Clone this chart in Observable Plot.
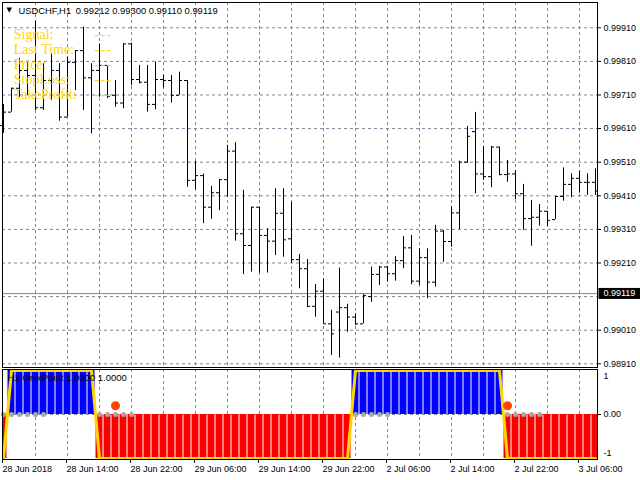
<!DOCTYPE html>
<html><head><meta charset="utf-8">
<script src="https://cdn.jsdelivr.net/npm/d3@7"></script>
<script src="https://cdn.jsdelivr.net/npm/@observablehq/plot@0.6"></script>
<style>
html,body{margin:0;padding:0;background:#fff;}
#chart{position:relative;width:640px;height:480px;overflow:hidden;background:#fff;}
#chart svg{position:absolute;left:0;display:block;}
</style></head><body><div id="chart"></div>
<script>
// ---- data ----
const symbol = "USDCHF,H1";
const headerOHLC = ["0.99212", "0.99300", "0.99110", "0.99119"];
const currentPrice = 0.99119;
const priceLevels = [0.98910, 0.99010, 0.99110, 0.99210, 0.99310, 0.99410, 0.99510, 0.99610, 0.99710, 0.99810, 0.99910];
const opens = [0.99619,0.99659,0.99730,0.99783,0.99768,0.99672,0.99753,0.99783,0.99644,0.99807,
0.99842,0.99761,0.99783,0.99798,0.99709,0.99686,0.99862,0.99756,0.99748,0.99682,
0.99756,0.99753,0.99709,0.99753,0.99456,0.99470,0.99376,0.99419,0.99458,0.99543,
0.99297,0.99262,0.99376,0.99292,0.99275,0.99358,0.99282,0.99220,0.99193,0.99081,
0.99126,0.99029,0.99064,0.99077,0.99049,0.99029,0.99110,0.99176,0.99198,0.99178,
0.99217,0.99255,0.99156,0.99226,0.99153,0.99305,0.99274,0.99359,0.99510,0.99601,
0.99475,0.99467,0.99555,0.99473,0.99475,0.99416,0.99342,0.99346,0.99364,0.99339,
0.99408,0.99444,0.99462,0.99450,0.99450];
const highs = [0.99682,0.99730,0.99819,0.99807,0.99930,0.99803,0.99834,0.99803,0.99822,0.99842,
0.99912,0.99803,0.99862,0.99798,0.99753,0.99862,0.99864,0.99798,0.99798,0.99808,
0.99768,0.99768,0.99778,0.99753,0.99512,0.99475,0.99438,0.99458,0.99560,0.99568,
0.99426,0.99376,0.99376,0.99312,0.99431,0.99431,0.99391,0.99235,0.99220,0.99146,
0.99163,0.99069,0.99195,0.99087,0.99059,0.99116,0.99198,0.99200,0.99200,0.99229,
0.99289,0.99292,0.99252,0.99252,0.99322,0.99307,0.99378,0.99513,0.99616,0.99658,
0.99557,0.99557,0.99555,0.99515,0.99485,0.99444,0.99396,0.99384,0.99364,0.99408,
0.99493,0.99475,0.99483,0.99475,0.99490];
const lows = [0.99596,0.99659,0.99703,0.99709,0.99664,0.99664,0.99694,0.99632,0.99644,0.99723,
0.99664,0.99594,0.99703,0.99699,0.99674,0.99669,0.99738,0.99743,0.99659,0.99666,
0.99731,0.99686,0.99709,0.99436,0.99428,0.99327,0.99340,0.99366,0.99406,0.99275,
0.99176,0.99183,0.99180,0.99180,0.99232,0.99227,0.99209,0.99133,0.99077,0.99049,
0.99029,0.98935,0.98927,0.99004,0.99024,0.99029,0.99093,0.99143,0.99153,0.99156,
0.99193,0.99145,0.99143,0.99104,0.99138,0.99212,0.99257,0.99309,0.99507,0.99416,
0.99456,0.99434,0.99470,0.99450,0.99398,0.99307,0.99260,0.99320,0.99319,0.99339,
0.99394,0.99404,0.99418,0.99411,0.99411];
const closes = [0.99659,0.99730,0.99783,0.99768,0.99672,0.99753,0.99783,0.99644,0.99807,0.99842,
0.99761,0.99783,0.99798,0.99706,0.99686,0.99862,0.99756,0.99748,0.99682,0.99756,
0.99753,0.99709,0.99753,0.99456,0.99470,0.99376,0.99419,0.99458,0.99543,0.99297,
0.99262,0.99376,0.99292,0.99275,0.99358,0.99279,0.99220,0.99193,0.99081,0.99126,
0.99029,0.98999,0.99077,0.99049,0.99029,0.99113,0.99176,0.99198,0.99178,0.99217,
0.99255,0.99156,0.99226,0.99153,0.99305,0.99274,0.99359,0.99510,0.99587,0.99475,
0.99467,0.99555,0.99473,0.99475,0.99416,0.99342,0.99346,0.99364,0.99337,0.99408,
0.99444,0.99462,0.99450,0.99450,0.99424];
// OnixPoint indicator: +1 buy, -1 sell
const signal = [-1,1,1,1,1,1,1,1,1,1,
1,1,-1,-1,-1,-1,-1,-1,-1,-1,
-1,-1,-1,-1,-1,-1,-1,-1,-1,-1,
-1,-1,-1,-1,-1,-1,-1,-1,-1,-1,
-1,-1,-1,-1,1,1,1,1,1,1,
1,1,1,1,1,1,1,1,1,1,
1,1,1,-1,-1,-1,-1,-1,-1,-1,
-1,-1,-1,-1,-1];
const grayDotBars = [0,1,2,3,4,5,12,13,14,15,16,44,45,46,47,48,63,64,65,66,67];
const arrowBars = [14, 63];
const arrowValues = [0.2, 0.2];
const indicatorLevels = [1, 0, -1];
const indicatorLevelLabels = ["1", "0.00", "-1"];
const dateTickBars = [0, 8, 16, 24, 32, 40, 48, 56, 64, 72];
const dateTickLabels = ["28 Jun 2018","28 Jun 14:00","28 Jun 22:00","29 Jun 06:00","29 Jun 14:00","29 Jun 22:00","2 Jul 06:00","2 Jul 14:00","2 Jul 22:00","3 Jul 06:00"];
const gridBars = d3.range(4, 73, 4);
const infoLabels = ["Signal:", "Last Time:", "Price:", "StopLoss:", "TakeProfit:"];
const infoValues = ["---", "---", "---", "---", "---"];
const indicatorName = "H1 OnixPoint 1.0000 1.0000";

// ---- build ----
const n = opens.length;
const bars = opens.map((o, i) => ({i, open: o, high: highs[i], low: lows[i], close: closes[i]}));
const hist = signal.map((v, i) => ({i, v}));
const arrows = arrowBars.map((b, k) => ({i: b, v: arrowValues[k]}));
const xDomain = [-0.125, n - 0.75];
const fontFamily = "'Liberation Sans', Arial, sans-serif";
const serif = "'Liberation Serif', 'Times New Roman', serif";
const gridColor = "#778899";
const fmt5 = d3.format(".5f");
const gridStyle = {stroke: gridColor, strokeOpacity: 1, strokeDasharray: "3,3"};
// price labels hidden behind the current-price tag are not drawn
const labelledLevels = priceLevels.filter(p => Math.abs(p - currentPrice) > 0.0002);
const levelLabel = d => indicatorLabelFor(d);
function indicatorLabelFor(d) { return indicatorLevelLabels[indicatorLevels.indexOf(d)]; }

const main = Plot.plot({
  width: 640, height: 368,
  marginLeft: 2, marginRight: 43, marginTop: 2, marginBottom: 1,
  style: {fontFamily, fontSize: "9px", color: "black", background: "white", overflow: "visible"},
  x: {domain: xDomain, axis: null},
  y: {domain: [0.98899, 0.999852], axis: null},
  marks: [
    Plot.gridX(gridBars, gridStyle),
    Plot.gridY(priceLevels, gridStyle),
    Plot.ruleY([currentPrice], {stroke: gridColor}),
    Plot.ruleX(bars, {x: "i", y1: "low", y2: "high", stroke: "black"}),
    Plot.ruleY(bars, {y: "open", x1: d => d.i - 0.375, x2: "i", stroke: "black"}),
    Plot.ruleY(bars, {y: "close", x1: "i", x2: d => d.i + 0.375, stroke: "black"}),
    Plot.frame({stroke: "black"}),
    Plot.axisY(labelledLevels, {anchor: "right", tickSize: 3, tickPadding: 3, tickFormat: fmt5, label: null}),
    Plot.text([currentPrice], {y: d => d, frameAnchor: "right", textAnchor: "start", dx: 6, text: d => fmt5(d), fill: "white"}),
    Plot.text(["\u25BC"], {frameAnchor: "top-left", dx: 4, dy: 5, fontSize: 7, fontFamily: "DejaVu Sans", textAnchor: "start", fill: "black"}),
    Plot.text([symbol + "\u2002" + headerOHLC.join(" ")], {frameAnchor: "top-left", dx: 16, dy: 4.5, textAnchor: "start", fill: "black", fontSize: 9.4}),
    Plot.text([infoLabels.join("\n")], {frameAnchor: "top-left", dx: 11.3, dy: 26.3, textAnchor: "start", lineHeight: 15/14, fontSize: 14, fontFamily: serif, fill: "#FFD700"}),
    Plot.text([infoValues.join("\n")], {frameAnchor: "top-left", dx: 92, dy: 26.3, textAnchor: "start", lineHeight: 15/14, fontSize: 14, fontFamily: serif, fill: "#FFD700"})
  ]
});

const ind = Plot.plot({
  width: 640, height: 112,
  marginLeft: 2, marginRight: 43, marginTop: 1, marginBottom: 21,
  style: {fontFamily, fontSize: "9px", color: "black", background: "white", overflow: "visible"},
  x: {domain: xDomain, axis: null},
  y: {domain: [-1.0227, 1.0227], axis: null},
  marks: [
    Plot.gridX(gridBars, gridStyle),
    Plot.gridY([0], gridStyle),
    Plot.rect(hist, {x1: d => d.i - 0.5, x2: d => d.i + 0.5, y1: 0, y2: "v", fill: d => d.v > 0 ? "#0000FF" : "#FF0000", insetLeft: 0.5, insetRight: 0.5, clip: true}),
    Plot.line(hist, {x: "i", y: "v", stroke: "#FFD700", strokeWidth: 3, clip: true}),
    Plot.dot(grayDotBars, {x: d => d, y: 0, r: 2.5, fill: "#A8A8A8"}),
    Plot.dot(arrows, {x: "i", y: "v", r: 4.5, fill: "#FF4500"}),
    Plot.frame({stroke: "black"}),
    Plot.text([indicatorName], {frameAnchor: "top-left", dx: 5, dy: 4.5, textAnchor: "start", fill: "black", fontSize: 9.5}),
    Plot.axisY([0], {anchor: "right", tickSize: 3, tickPadding: 3, tickFormat: levelLabel, label: null}),
    Plot.axisY([1], {anchor: "right", tickSize: 0, tickPadding: 6, dy: 6, tickFormat: levelLabel, label: null}),
    Plot.axisY([-1], {anchor: "right", tickSize: 0, tickPadding: 6, dy: -5, tickFormat: levelLabel, label: null}),
    Plot.axisX(dateTickBars, {anchor: "bottom", tickSize: 4, tickPadding: 2, textAnchor: "start", dx: -1, tickFormat: d => dateTickLabels[dateTickBars.indexOf(d)], label: null})
  ]
});

const host = document.getElementById("chart");
main.style.top = "0px";
ind.style.top = "368px";
host.appendChild(main);
host.appendChild(ind);

// black box behind the current price tag; spaced-out dashes
const tagText = fmt5(currentPrice);
main.querySelectorAll("text").forEach(t => {
  const s = t.textContent;
  if (s === tagText) {
    const b = t.getBBox();
    const r = document.createElementNS("http://www.w3.org/2000/svg", "rect");
    r.setAttribute("x", b.x - 5);
    r.setAttribute("y", b.y - 0.5);
    r.setAttribute("width", b.width + 10);
    r.setAttribute("height", b.height + 1);
    r.setAttribute("fill", "black");
    if (t.getAttribute("transform")) r.setAttribute("transform", t.getAttribute("transform"));
    t.parentNode.insertBefore(r, t);
  } else if (/^-+$/.test(s)) {
    t.setAttribute("letter-spacing", "1.3");
  }
});
</script></body></html>
